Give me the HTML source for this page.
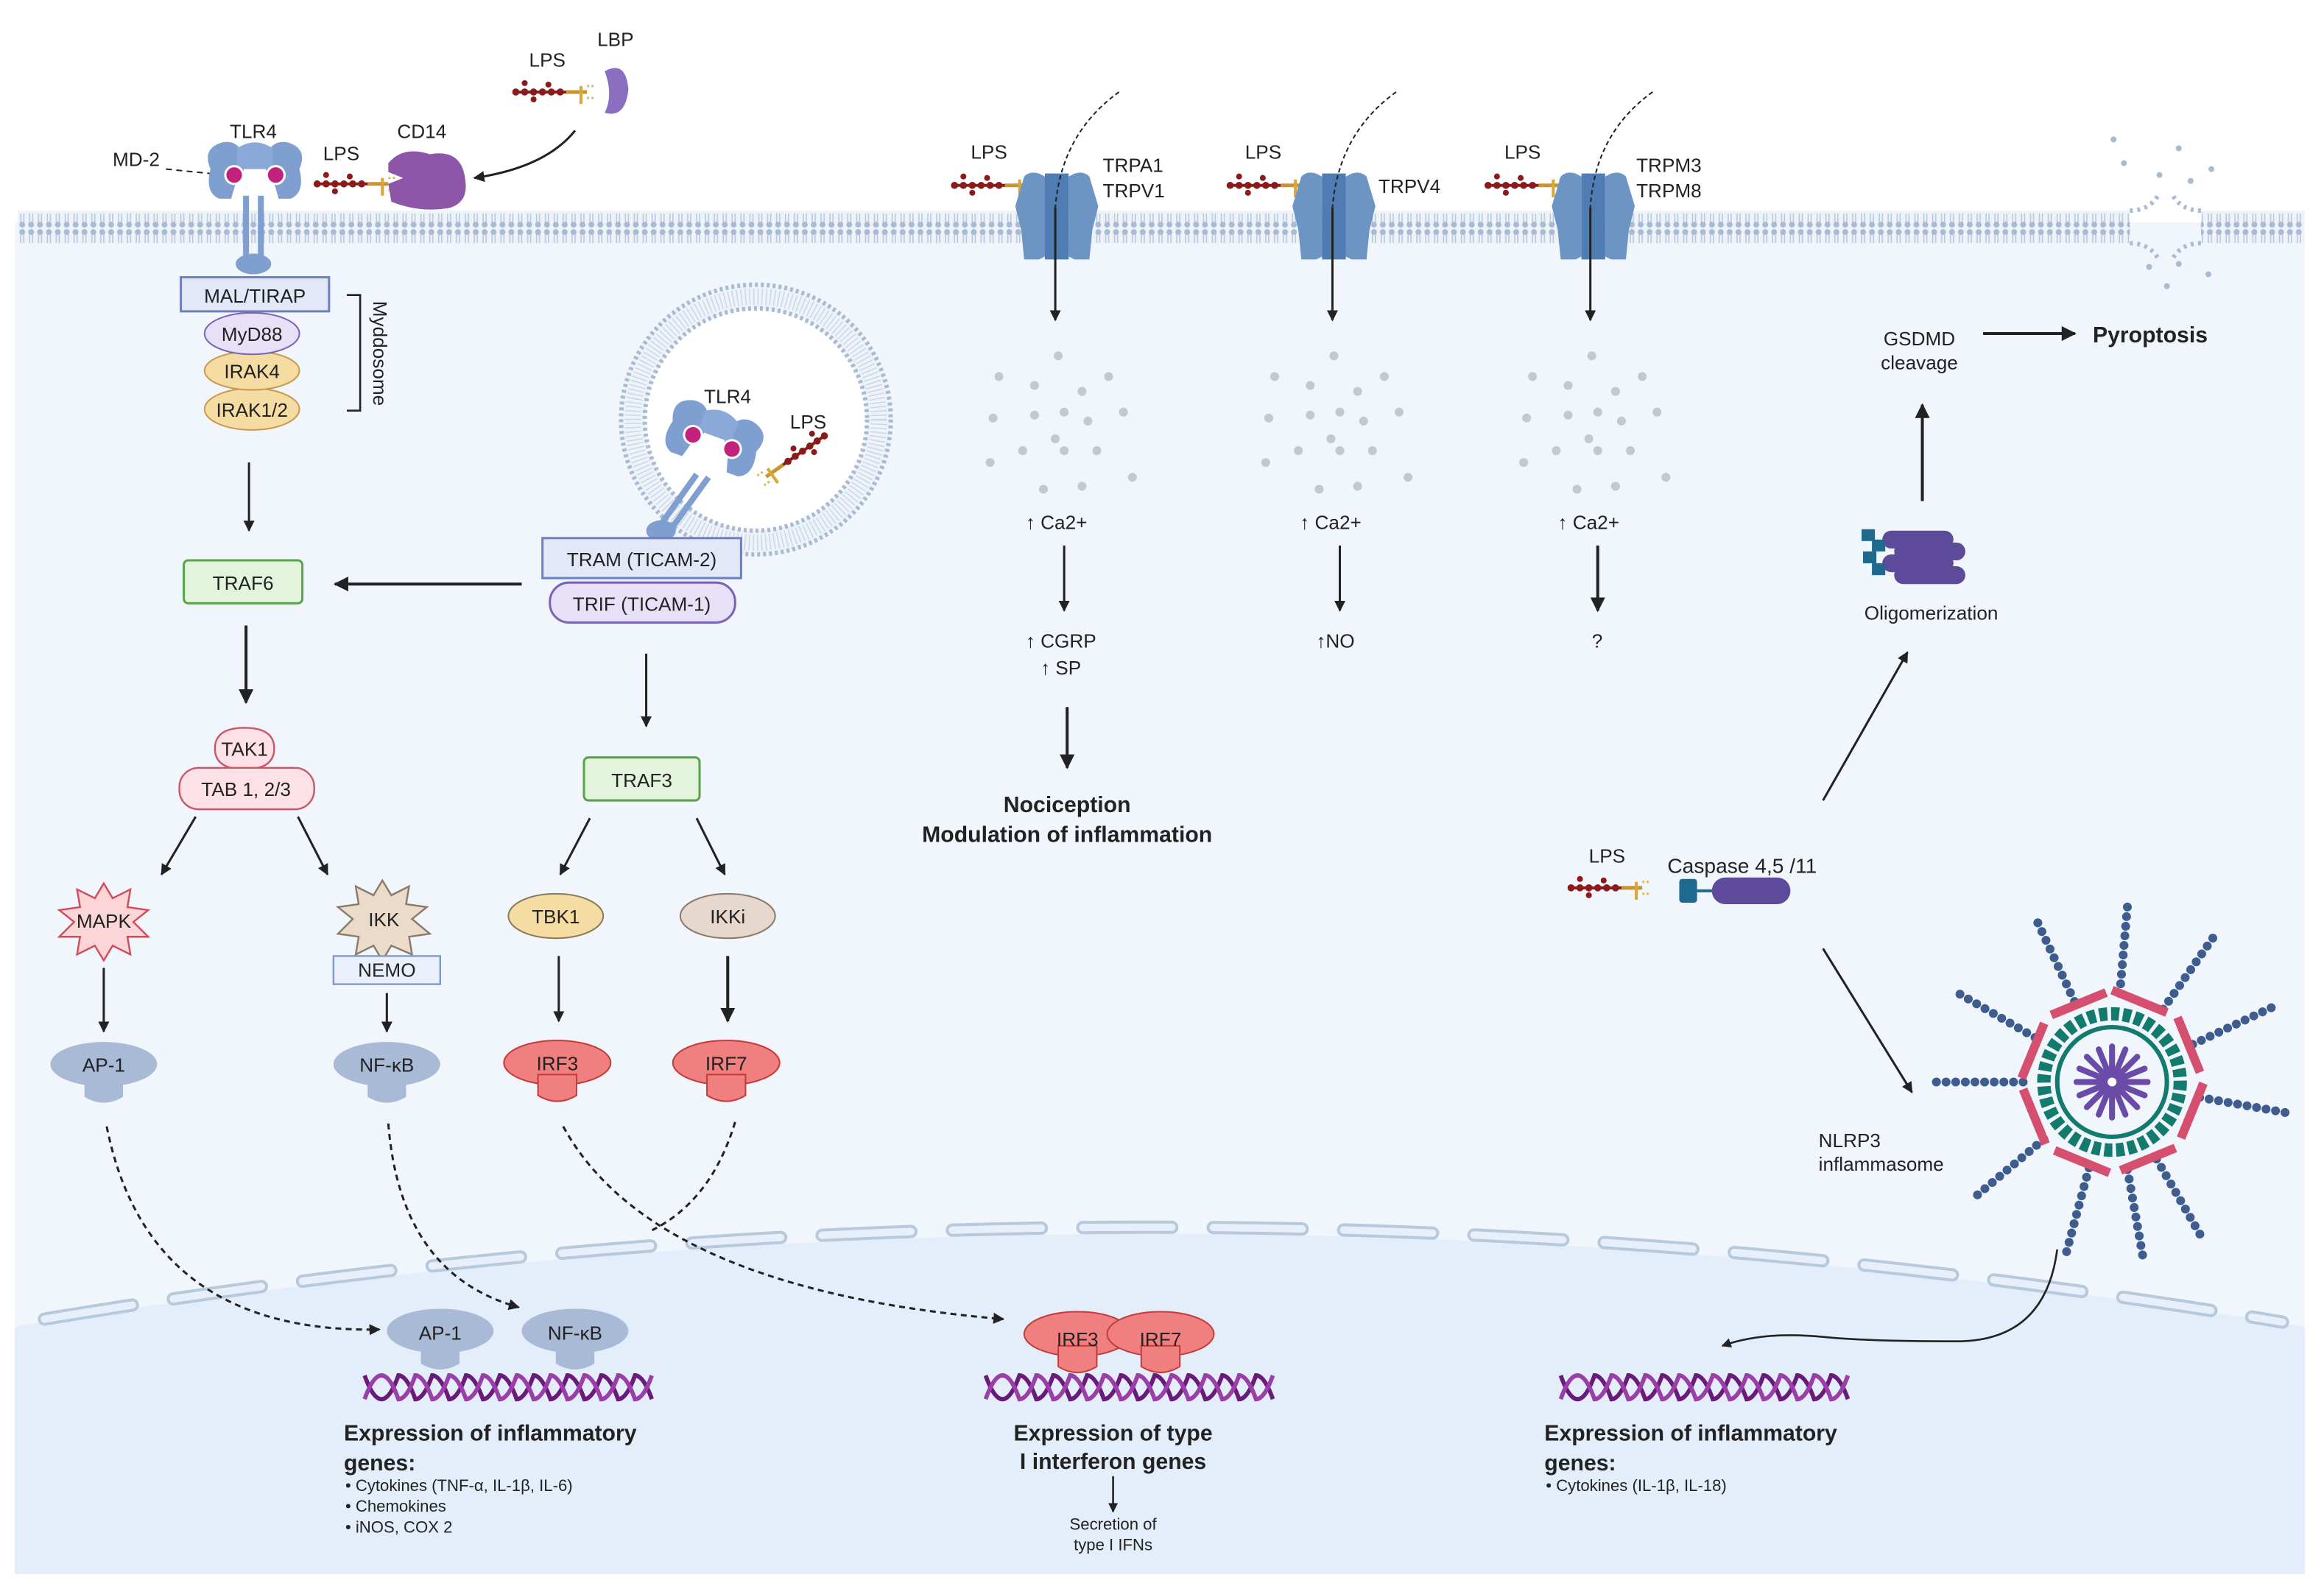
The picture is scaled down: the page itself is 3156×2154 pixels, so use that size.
<!DOCTYPE html>
<html><head><meta charset="utf-8"><style>
html,body{margin:0;padding:0;background:#fff}
svg{display:block}
text{font-family:"Liberation Sans",sans-serif;fill:#222}
</style></head><body>
<svg width="3156" height="2154" viewBox="0 0 1568 1070" xmlns="http://www.w3.org/2000/svg">
<defs>
<marker id="ah" viewBox="0 0 10 10" refX="9" refY="5" markerWidth="5" markerHeight="5" orient="auto"><path d="M0,0 L10,5 L0,10 z" fill="#222"/></marker>
<pattern id="mem" width="6" height="22" patternUnits="userSpaceOnUse">
<rect width="6" height="22" fill="#eef3fa"/>
<circle cx="3" cy="2.5" r="2" fill="#a9bbd3"/><circle cx="3" cy="19.5" r="2" fill="#a9bbd3"/>
<line x1="2" y1="4" x2="2" y2="10" stroke="#b9c8dc" stroke-width="0.8"/><line x1="4" y1="4" x2="4" y2="10" stroke="#b9c8dc" stroke-width="0.8"/>
<line x1="2" y1="12" x2="2" y2="18" stroke="#b9c8dc" stroke-width="0.8"/><line x1="4" y1="12" x2="4" y2="18" stroke="#b9c8dc" stroke-width="0.8"/>
</pattern>
<g id="lps">
<line x1="0" y1="0" x2="38" y2="0" stroke="#8b1a1a" stroke-width="2"/>
<circle cx="2" cy="0" r="2.4" fill="#8b1a1a"/><circle cx="8" cy="0" r="2.4" fill="#8b1a1a"/><circle cx="14" cy="0" r="2.4" fill="#8b1a1a"/><circle cx="20" cy="0" r="2.4" fill="#8b1a1a"/><circle cx="26" cy="0" r="2.4" fill="#8b1a1a"/><circle cx="32" cy="0" r="2.4" fill="#8b1a1a"/>
<circle cx="8" cy="-6" r="2" fill="#8b1a1a"/><circle cx="14" cy="5" r="2" fill="#8b1a1a"/><circle cx="24" cy="-5" r="2" fill="#8b1a1a"/>
<line x1="36" y1="0" x2="50" y2="0" stroke="#c8962a" stroke-width="2.5"/>
<line x1="46" y1="-4" x2="46" y2="8" stroke="#d9a63a" stroke-width="2"/><line x1="50" y1="-4" x2="56" y2="-4" stroke="#e0b860" stroke-width="1.5" stroke-dasharray="1.5 1.5"/><line x1="50" y1="4" x2="56" y2="4" stroke="#e0b860" stroke-width="1.5" stroke-dasharray="1.5 1.5"/>
</g>
<g id="chan">
<path d="M-22,-18 q4,-4 10,-2 l4,2 l0,54 l-4,2 l-10,0 l-2,-20 l-4,-16 z" fill="#6d95c4"/>
<path d="M22,-18 q-4,-4 -10,-2 l-4,2 l0,54 l4,2 l10,0 l2,-20 l4,-16 z" fill="#6d95c4"/>
<path d="M-8,-20 l16,0 l0,58 l-16,0 z" fill="#4f7db3"/>
</g>
<g id="mush"><ellipse cx="0" cy="0" rx="36" ry="15"/><path d="M-13,8 L-13,22 Q0,30 13,22 L13,8 z"/></g>
<g id="tlr">
<path d="M-30,-6 q-6,-14 8,-18 q10,-2 14,8 q4,10 -4,16 l-4,14 l-8,0 q-10,-4 -6,-20z" fill="#7f9fd1"/>
<path d="M30,-6 q6,-14 -8,-18 q-10,-2 -14,8 q-4,10 4,16 l4,14 l8,0 q10,-4 6,-20z" fill="#7f9fd1"/>
<path d="M-12,-20 q12,-8 24,0 l0,14 l-24,0z" fill="#8aa9d8"/>
<circle cx="-14" cy="-2" r="6" fill="#c2227e" stroke="#fff" stroke-width="1.5"/>
<circle cx="14" cy="-2" r="6" fill="#c2227e" stroke="#fff" stroke-width="1.5"/>
</g>
<g id="dots" fill="#c4c8cf">
<circle cx="0" cy="0" r="3"/><circle cx="-40" cy="14" r="3"/><circle cx="34" cy="14" r="3"/><circle cx="-16" cy="20" r="3"/><circle cx="16" cy="24" r="3"/><circle cx="-44" cy="42" r="3"/><circle cx="-16" cy="40" r="3"/><circle cx="4" cy="38" r="3"/><circle cx="20" cy="44" r="3"/><circle cx="44" cy="38" r="3"/><circle cx="-2" cy="56" r="3"/><circle cx="-24" cy="64" r="3"/><circle cx="4" cy="64" r="3"/><circle cx="26" cy="64" r="3"/><circle cx="-46" cy="72" r="3"/><circle cx="50" cy="82" r="3"/><circle cx="-10" cy="90" r="3"/><circle cx="16" cy="88" r="3"/>
</g>
<g id="dna" fill="none" stroke-width="3" transform="scale(0.95,1)">
<path d="M0,-8 q6,16 12,16 q6,0 12,-16 q6,-0 12,16 q6,0 12,-16 q6,0 12,16 q6,0 12,-16 q6,0 12,16 q6,0 12,-16 q6,0 12,16 q6,0 12,-16 q6,0 12,16 q6,0 12,-16 q6,0 12,16 q6,0 12,-16 q6,0 12,16 q6,0 12,-16 q6,0 12,16" stroke="#6a1b7a"/>
<path d="M0,8 q6,-16 12,-16 q6,0 12,16 q6,0 12,-16 q6,0 12,16 q6,0 12,-16 q6,0 12,16 q6,0 12,-16 q6,0 12,16 q6,0 12,-16 q6,0 12,16 q6,0 12,-16 q6,0 12,16 q6,0 12,-16 q6,0 12,16 q6,0 12,-16 q6,0 12,16 q6,0 12,-16" stroke="#9b3fa8"/>
</g>
</defs>

<rect x="10" y="150" width="1545" height="912" fill="#f1f6fc"/>
<path d="M10,895 Q780,770 1555,895 L1555,1062 L10,1062 z" fill="#e4eefa"/>
<path d="M30,890 Q780,765 1540,892" fill="none" stroke="#b8c9dc" stroke-width="9" stroke-dasharray="60 28" stroke-linecap="round"/>
<path d="M30,890 Q780,765 1540,892" fill="none" stroke="#e7f0fa" stroke-width="5" stroke-dasharray="60 28" stroke-linecap="round"/>
<rect x="12" y="142" width="1425" height="22" fill="url(#mem)"/>
<rect x="1485" y="142" width="70" height="22" fill="url(#mem)"/>
<path d="M1437,142 q14,0 20,-12 M1437,164 q14,0 20,12 M1485,142 q-14,0 -20,-12 M1485,164 q-14,0 -20,12" stroke="#a9bbd3" stroke-width="3" fill="none" stroke-dasharray="2 3"/>
<g fill="#a9bbd3"><circle cx="1433" cy="110" r="2"/><circle cx="1457" cy="118" r="2"/><circle cx="1470" cy="100" r="2"/><circle cx="1478" cy="122" r="2"/><circle cx="1492" cy="114" r="2"/><circle cx="1426" cy="94" r="2"/><circle cx="1462" cy="193" r="2"/><circle cx="1470" cy="178" r="2"/><circle cx="1490" cy="185" r="2"/><circle cx="1450" cy="180" r="2"/></g>

<text x="357" y="45" font-size="13">LPS</text><text x="403" y="31" font-size="13">LBP</text>
<use href="#lps" x="346" y="62"/>
<path d="M408,48 q14,-8 16,12 q-2,20 -16,16 q6,-12 0,-28z" fill="#8a6fc0"/>
<path d="M388,88 q-20,25 -68,32" fill="none" stroke="#222" stroke-width="1.5" marker-end="url(#ah)"/>
<text x="268" y="93" font-size="13">CD14</text><text x="218" y="108" font-size="13">LPS</text>
<use href="#lps" x="212" y="124"/>
<path d="M262,110 q10,-12 28,-6 q22,-4 24,18 q2,14 -10,18 q-20,4 -40,-4 l-2,-12 l10,-4 l-10,-4z" fill="#8e56a8"/>
<text x="155" y="93" font-size="13">TLR4</text>
<text x="76" y="112" font-size="13">MD-2</text>
<line x1="112" y1="114" x2="152" y2="118" stroke="#222" stroke-dasharray="4 3"/>
<use href="#tlr" x="172" y="120"/>
<rect x="164" y="132" width="4" height="45" fill="#7f9fd1"/><rect x="174" y="132" width="4" height="45" fill="#7f9fd1"/>
<ellipse cx="171" cy="178" rx="12" ry="7" fill="#7f9fd1"/>
<rect x="122" y="187" width="100" height="23" fill="#e2e8f8" stroke="#6e7fc2" stroke-width="1.5"/>
<text x="172" y="204" font-size="13" text-anchor="middle">MAL/TIRAP</text>
<ellipse cx="170" cy="276" rx="32" ry="14" fill="#f5dca3" stroke="#c79a50"/>
<text x="170" y="281" font-size="13" text-anchor="middle">IRAK1/2</text>
<ellipse cx="170" cy="250" rx="32" ry="13" fill="#f5dca3" stroke="#c79a50"/>
<text x="170" y="255" font-size="13" text-anchor="middle">IRAK4</text>
<ellipse cx="170" cy="225" rx="32" ry="14" fill="#e8e0f7" stroke="#7a62b6"/>
<text x="170" y="230" font-size="13" text-anchor="middle">MyD88</text>
<path d="M234,199 L243,199 L243,277 L234,277" fill="none" stroke="#222" stroke-width="1.3"/>
<text x="0" y="0" font-size="13" transform="translate(252,203) rotate(90)">Myddosome</text>

<line x1="168" y1="312" x2="168" y2="358" stroke="#222" stroke-width="1.5" marker-end="url(#ah)"/>
<rect x="124" y="378" width="80" height="29" rx="3" fill="#e2f5dc" stroke="#5aa34d" stroke-width="1.5"/>
<text x="164" y="398" font-size="13" text-anchor="middle">TRAF6</text>
<line x1="352" y1="394" x2="226" y2="394" stroke="#222" stroke-width="2" marker-end="url(#ah)"/>
<line x1="166" y1="422" x2="166" y2="474" stroke="#222" stroke-width="2" marker-end="url(#ah)"/>
<path d="M145,505 q0,-14 20,-14 q20,0 20,14 q0,14 -20,14 q-20,0 -20,-14z" fill="#fde1e6" stroke="#c8586a" stroke-width="1.2"/>
<text x="165" y="510" font-size="13" text-anchor="middle">TAK1</text>
<rect x="121" y="518" width="91" height="28" rx="13" fill="#fde1e6" stroke="#c8586a" stroke-width="1.2"/>
<text x="166" y="537" font-size="13" text-anchor="middle">TAB 1, 2/3</text>
<line x1="132" y1="551" x2="109" y2="590" stroke="#222" stroke-width="1.5" marker-end="url(#ah)"/>
<line x1="201" y1="551" x2="221" y2="590" stroke="#222" stroke-width="1.5" marker-end="url(#ah)"/>
<polygon points="70,596 76,606 88,600 86,612 100,614 90,622 100,632 86,632 88,644 76,638 70,648 64,638 52,644 54,632 40,632 50,622 40,614 54,612 52,600 64,606" fill="#fbd5d8" stroke="#d04c58" stroke-width="1.2"/>
<text x="70" y="626" font-size="13" text-anchor="middle">MAPK</text>
<polygon points="258,594 264,604 276,598 274,610 288,612 278,620 290,630 276,632 278,644 264,638 258,648 252,638 240,644 242,632 228,630 238,620 228,612 242,610 240,598 252,604" fill="#ebdcca" stroke="#8a7a6a" stroke-width="1.2"/>
<text x="259" y="625" font-size="13" text-anchor="middle">IKK</text>
<rect x="225" y="645" width="72" height="19" fill="#eaf0fb" stroke="#7a9ad0" stroke-width="1.2"/>
<text x="261" y="659" font-size="13" text-anchor="middle">NEMO</text>
<line x1="70" y1="653" x2="70" y2="696" stroke="#222" stroke-width="1.5" marker-end="url(#ah)"/>
<line x1="261" y1="670" x2="261" y2="696" stroke="#222" stroke-width="1.5" marker-end="url(#ah)"/>
<use href="#mush" x="70" y="718" fill="#a8bad6"/>
<text x="70" y="723" font-size="13" text-anchor="middle">AP-1</text>
<use href="#mush" x="261" y="718" fill="#a8bad6"/>
<text x="261" y="723" font-size="13" text-anchor="middle">NF-κB</text>

<circle cx="510" cy="283" r="83" fill="#fff"/>
<circle cx="510" cy="283" r="83" fill="none" stroke="#eef3fa" stroke-width="17"/>
<circle cx="510" cy="283" r="91" fill="none" stroke="#a9bbd3" stroke-width="3" stroke-dasharray="2 2"/>
<circle cx="510" cy="283" r="75" fill="none" stroke="#a9bbd3" stroke-width="3" stroke-dasharray="2 2"/>
<circle cx="510" cy="283" r="83" fill="none" stroke="#cdd8e6" stroke-width="11" stroke-dasharray="0.8 2"/>
<text x="475" y="272" font-size="13">TLR4</text><text x="533" y="289" font-size="13">LPS</text>
<g transform="translate(480,300) rotate(20)"><use href="#tlr"/></g>
<line x1="470" y1="320" x2="445" y2="355" stroke="#7f9fd1" stroke-width="4"/><line x1="478" y1="322" x2="452" y2="358" stroke="#7f9fd1" stroke-width="4"/>
<ellipse cx="446" cy="358" rx="10" ry="7" fill="#7f9fd1"/>
<g transform="translate(512,325) rotate(-35)"><use href="#lps" transform="scale(-1,1) translate(-56,0)"/></g>
<rect x="366" y="363" width="134" height="27" fill="#e2e8f8" stroke="#6e7fc2" stroke-width="1.5"/>
<text x="433" y="382" font-size="13" text-anchor="middle">TRAM (TICAM-2)</text>
<rect x="371" y="393" width="125" height="27" rx="13" fill="#e8e0f7" stroke="#7a62b6" stroke-width="1.5"/>
<text x="433" y="412" font-size="13" text-anchor="middle">TRIF (TICAM-1)</text>
<line x1="436" y1="441" x2="436" y2="490" stroke="#222" stroke-width="1.5" marker-end="url(#ah)"/>
<rect x="394" y="511" width="78" height="29" rx="3" fill="#e2f5dc" stroke="#5aa34d" stroke-width="1.5"/>
<text x="433" y="531" font-size="13" text-anchor="middle">TRAF3</text>
<line x1="398" y1="552" x2="378" y2="590" stroke="#222" stroke-width="1.5" marker-end="url(#ah)"/>
<line x1="470" y1="552" x2="489" y2="590" stroke="#222" stroke-width="1.5" marker-end="url(#ah)"/>
<ellipse cx="375" cy="618" rx="32" ry="15" fill="#f5dca3" stroke="#8a7a5a"/>
<text x="375" y="623" font-size="13" text-anchor="middle">TBK1</text>
<ellipse cx="491" cy="618" rx="32" ry="15" fill="#e6d8cc" stroke="#8a7a6a"/>
<text x="491" y="623" font-size="13" text-anchor="middle">IKKi</text>
<line x1="377" y1="645" x2="377" y2="689" stroke="#222" stroke-width="1.5" marker-end="url(#ah)"/>
<line x1="491" y1="645" x2="491" y2="689" stroke="#222" stroke-width="2" marker-end="url(#ah)"/>
<use href="#mush" x="376" y="717" fill="#f08080" stroke="#c43a3a"/>
<text x="376" y="722" font-size="13" text-anchor="middle">IRF3</text>
<use href="#mush" x="490" y="717" fill="#f08080" stroke="#c43a3a"/>
<text x="490" y="722" font-size="13" text-anchor="middle">IRF7</text>

<g fill="none" stroke="#222" stroke-width="1.5" stroke-dasharray="4 3">
<path d="M72,760 Q100,900 256,897" marker-end="url(#ah)"/>
<path d="M262,758 Q270,860 350,882" marker-end="url(#ah)"/>
<path d="M380,760 Q440,870 677,890" marker-end="url(#ah)"/>
<path d="M496,757 Q480,810 440,830"/>
</g>
<use href="#mush" x="297" y="898" fill="#a8bad6"/>
<text x="297" y="904" font-size="13" text-anchor="middle">AP-1</text>
<use href="#mush" x="388" y="898" fill="#a8bad6"/>
<text x="388" y="904" font-size="13" text-anchor="middle">NF-κB</text>
<use href="#dna" x="246" y="936"/>
<text x="232" y="972" font-size="15" font-weight="bold">Expression of inflammatory</text>
<text x="232" y="992" font-size="15" font-weight="bold">genes:</text>
<text x="233" y="1006" font-size="11">• Cytokines (TNF-α, IL-1β, IL-6)</text>
<text x="233" y="1020" font-size="11">• Chemokines</text>
<text x="233" y="1034" font-size="11">• iNOS, COX 2</text>
<use href="#mush" x="727" y="900" fill="#f08080" stroke="#c43a3a"/>
<use href="#mush" x="783" y="900" fill="#f08080" stroke="#c43a3a"/>
<text x="727" y="908" font-size="13" text-anchor="middle">IRF3</text>
<text x="783" y="908" font-size="13" text-anchor="middle">IRF7</text>
<use href="#dna" x="665" y="936"/>
<text x="751" y="972" font-size="15" font-weight="bold" text-anchor="middle">Expression of type</text>
<text x="751" y="991" font-size="15" font-weight="bold" text-anchor="middle">I interferon genes</text>
<line x1="751" y1="996" x2="751" y2="1020" stroke="#222" stroke-width="1.3" marker-end="url(#ah)"/>
<text x="751" y="1032" font-size="11" text-anchor="middle">Secretion of</text>
<text x="751" y="1046" font-size="11" text-anchor="middle">type I IFNs</text>
<use href="#dna" x="1053" y="936"/>
<text x="1042" y="972" font-size="15" font-weight="bold">Expression of inflammatory</text>
<text x="1042" y="992" font-size="15" font-weight="bold">genes:</text>
<text x="1043" y="1006" font-size="11">• Cytokines (IL-1β, IL-18)</text>
<path d="M1388,843 Q1380,905 1320,905 Q1260,905 1230,902 Q1190,898 1162,908" fill="none" stroke="#222" stroke-width="1.3" marker-end="url(#ah)"/>

<g font-size="13">
<text x="655" y="107">LPS</text><text x="744" y="116">TRPA1</text><text x="744" y="133">TRPV1</text>
<text x="840" y="107">LPS</text><text x="930" y="130">TRPV4</text>
<text x="1015" y="107">LPS</text><text x="1104" y="116">TRPM3</text><text x="1104" y="133">TRPM8</text>
<text x="692" y="357">↑ Ca2+</text><text x="877" y="357">↑ Ca2+</text><text x="1051" y="357">↑ Ca2+</text>
<text x="692" y="437">↑ CGRP</text><text x="702" y="455">↑ SP</text>
<text x="888" y="437">↑NO</text><text x="1074" y="437">?</text>
</g>
<use href="#lps" x="642" y="125"/><use href="#lps" x="828" y="125"/><use href="#lps" x="1002" y="125"/>
<use href="#chan" x="713" y="137"/><use href="#chan" x="900" y="137"/><use href="#chan" x="1075" y="137"/>
<g fill="none" stroke="#222" stroke-width="1">
<path d="M755,62 Q716,90 712,140" stroke-dasharray="3 2"/><line x1="712" y1="140" x2="712" y2="216" stroke-width="1.5" marker-end="url(#ah)"/>
<path d="M942,62 Q903,90 899,140" stroke-dasharray="3 2"/><line x1="899" y1="140" x2="899" y2="216" stroke-width="1.5" marker-end="url(#ah)"/>
<path d="M1115,62 Q1076,90 1073,140" stroke-dasharray="3 2"/><line x1="1073" y1="140" x2="1073" y2="216" stroke-width="1.5" marker-end="url(#ah)"/>
<line x1="718" y1="368" x2="718" y2="412" stroke-width="1.5" marker-end="url(#ah)"/>
<line x1="904" y1="368" x2="904" y2="412" stroke-width="1.5" marker-end="url(#ah)"/>
<line x1="1078" y1="368" x2="1078" y2="412" stroke-width="2" marker-end="url(#ah)"/>
<line x1="720" y1="477" x2="720" y2="518" stroke-width="2" marker-end="url(#ah)"/>
</g>
<use href="#dots" x="714" y="240"/><use href="#dots" x="900" y="240"/><use href="#dots" x="1074" y="240"/>
<text x="720" y="548" font-size="15" font-weight="bold" text-anchor="middle">Nociception</text>
<text x="720" y="568" font-size="15" font-weight="bold" text-anchor="middle">Modulation of inflammation</text>

<text x="1295" y="233" font-size="13" text-anchor="middle">GSDMD</text>
<text x="1295" y="249" font-size="13" text-anchor="middle">cleavage</text>
<line x1="1338" y1="225" x2="1400" y2="225" stroke="#222" stroke-width="2" marker-end="url(#ah)"/>
<text x="1412" y="231" font-size="15" font-weight="bold">Pyroptosis</text>
<line x1="1297" y1="338" x2="1297" y2="273" stroke="#222" stroke-width="2" marker-end="url(#ah)"/>
<g>
<rect x="1270" y="358" width="48" height="12" rx="6" fill="#5d4a9a"/><rect x="1278" y="366" width="48" height="12" rx="6" fill="#5d4a9a"/>
<rect x="1270" y="374" width="48" height="12" rx="6" fill="#5d4a9a"/><rect x="1278" y="382" width="48" height="12" rx="6" fill="#5d4a9a"/>
<rect x="1256" y="357" width="9" height="8" fill="#1e6a8e"/><rect x="1263" y="364" width="9" height="8" fill="#1e6a8e"/><rect x="1257" y="372" width="9" height="8" fill="#1e6a8e"/><rect x="1263" y="380" width="9" height="8" fill="#1e6a8e"/>
</g>
<text x="1303" y="418" font-size="13" text-anchor="middle">Oligomerization</text>
<line x1="1230" y1="540" x2="1287" y2="440" stroke="#222" stroke-width="1.5" marker-end="url(#ah)"/>
<text x="1072" y="582" font-size="13">LPS</text>
<use href="#lps" x="1058" y="599"/>
<text x="1125" y="589" font-size="14">Caspase 4,5 /11</text>
<rect x="1133" y="593" width="12" height="16" rx="2" fill="#1e6a8e"/><line x1="1145" y1="601" x2="1156" y2="601" stroke="#1e6a8e" stroke-width="2"/>
<rect x="1155" y="592" width="53" height="18" rx="9" fill="#5d4a9a"/>
<line x1="1230" y1="640" x2="1290" y2="737" stroke="#222" stroke-width="1.5" marker-end="url(#ah)"/>
<text x="1227" y="774" font-size="13">NLRP3</text><text x="1227" y="790" font-size="13">inflammasome</text>
<g transform="translate(1425,730)">
<g stroke="#3e5d8e" stroke-width="6" stroke-linecap="round" stroke-dasharray="0 6.5">
<line x1="0" y1="-60" x2="0" y2="-120" transform="rotate(-25)"/><line x1="0" y1="-60" x2="0" y2="-120" transform="rotate(5)"/><line x1="0" y1="-60" x2="0" y2="-120" transform="rotate(35)"/><line x1="0" y1="-60" x2="0" y2="-120" transform="rotate(65)"/><line x1="0" y1="-60" x2="0" y2="-120" transform="rotate(100)"/><line x1="0" y1="-60" x2="0" y2="-120" transform="rotate(150)"/><line x1="0" y1="-60" x2="0" y2="-120" transform="rotate(170)"/><line x1="0" y1="-60" x2="0" y2="-120" transform="rotate(195)"/><line x1="0" y1="-60" x2="0" y2="-120" transform="rotate(230)"/><line x1="0" y1="-60" x2="0" y2="-120" transform="rotate(270)"/><line x1="0" y1="-60" x2="0" y2="-120" transform="rotate(300)"/>
</g>
<polygon points="0,-62 44,-44 62,0 44,44 0,62 -44,44 -62,0 -44,-44" fill="none" stroke="#d4506e" stroke-width="6" stroke-dasharray="40 8"/>
<circle r="46" fill="#f1f6fc"/>
<circle r="46" fill="none" stroke="#137a6e" stroke-width="9" stroke-dasharray="5.5 2.5"/>
<circle r="37" fill="none" stroke="#137a6e" stroke-width="3"/>
<g stroke="#6a4ba8" stroke-width="4" stroke-linecap="round">
<line x1="-24" y1="0" x2="24" y2="0"/><line x1="0" y1="-24" x2="0" y2="24"/><line x1="-17" y1="-17" x2="17" y2="17"/><line x1="-17" y1="17" x2="17" y2="-17"/>
<line x1="-22" y1="-9" x2="22" y2="9"/><line x1="-22" y1="9" x2="22" y2="-9"/><line x1="-9" y1="-22" x2="9" y2="22"/><line x1="9" y1="-22" x2="-9" y2="22"/>
</g>
<circle r="3" fill="#fff"/>
</g>
</svg>
</body></html>
